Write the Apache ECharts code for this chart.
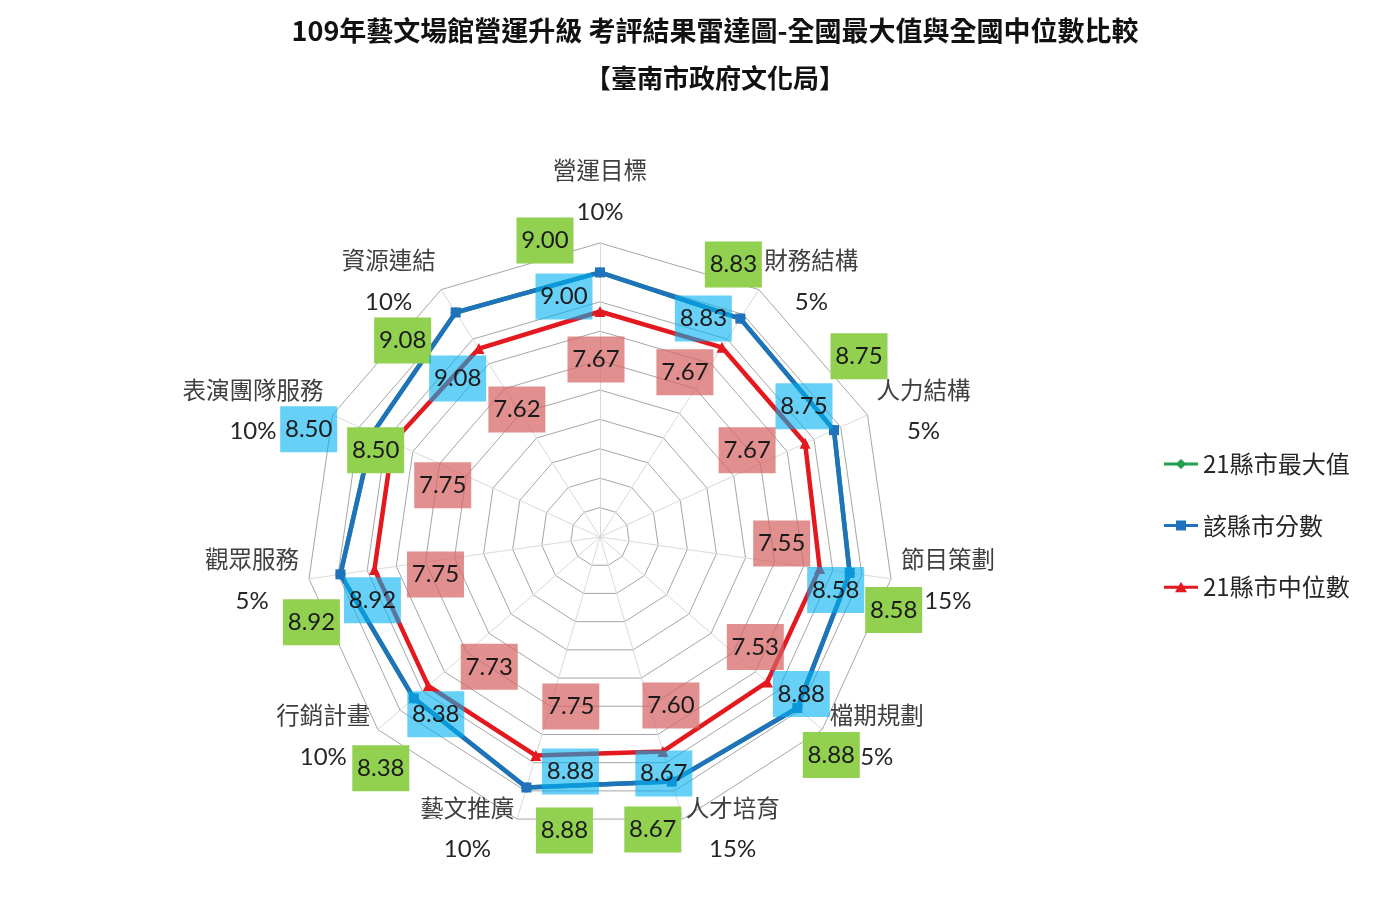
<!DOCTYPE html>
<html>
<head>
<meta charset="utf-8">
<script src="https://cdn.jsdelivr.net/npm/echarts@6/dist/echarts.min.js"></script>
<style>
html,body{margin:0;padding:0;background:#ffffff;}
#chart{width:1400px;height:903px;}
</style>
</head>
<body>
<div id="chart"></div>
<script>
// ---------- data ----------
const titleMain = '109年藝文場館營運升級 考評結果雷達圖-全國最大值與全國中位數比較';
const titleSub = '【臺南市政府文化局】';
const categories = ['營運目標', '財務結構', '人力結構', '節目策劃', '檔期規劃', '人才培育', '藝文推廣', '行銷計畫', '觀眾服務', '表演團隊服務', '資源連結'];
const weights = ['10%', '5%', '5%', '15%', '5%', '15%', '10%', '10%', '5%', '10%', '10%'];
const seriesNames = ['21縣市最大值', '該縣市分數', '21縣市中位數'];
const maxValues = [9.00, 8.83, 8.75, 8.58, 8.88, 8.67, 8.88, 8.38, 8.92, 8.50, 9.08];
const cityValues = [9.00, 8.83, 8.75, 8.58, 8.88, 8.67, 8.88, 8.38, 8.92, 8.50, 9.08];
const medianValues = [7.67, 7.67, 7.67, 7.55, 7.53, 7.60, 7.75, 7.73, 7.75, 7.75, 7.62];
const scaleMin = 0;
const scaleMax = 10;
const ringCount = 10;

// ---------- layout / style ----------
const CJK = '"Noto Sans CJK TC", "Noto Sans CJK SC", sans-serif';
const NUM = 'Lato, "Noto Sans", sans-serif';
const center = [600, 537];
const radius = 294;
const colors = { max: '#22A04B', city: '#1F72BC', median: '#E3191F' };
const labelBg = { max: '#92D050', city: 'rgba(0,176,240,0.6)', median: 'rgba(214,100,100,0.72)' };
// label offsets (px) from each vertex, clockwise from top
const maxLabelOffsets = [[-55, -32], [-7, -54], [25, -74], [44, 37], [34, 47], [-19, 48], [38, 43], [-33, 70], [-29, 48], [3, 17], [-53, 28]];
const cityLabelOffsets = [[-36, 24], [-37, 0], [-30, -24], [-14, 17], [4, -14], [-8, -8], [44, -16], [22, 16], [32, 26], [-64, -4], [2, 66]];
const medianLabelOffsets = [[-4, 48], [-37, 25], [-58, 7], [-38, -25], [-12, -35], [8, -46], [35, -49], [61, -19], [61, 5], [50, 43], [38, 61]];

// radar indicators run counter-clockwise; reorder so the picture reads clockwise
const order = [0].concat(categories.map((_, i) => i).slice(1).reverse());
const reorder = arr => order.map(i => arr[i]);

function radarSeries(name, values, color, symbol, size) {
  return {
    type: 'radar',
    name: name,
    symbol: symbol,
    symbolSize: size,
    lineStyle: { color: color, width: 4.5 },
    itemStyle: { color: color },
    areaStyle: null,
    emphasis: { disabled: true },
    data: [{ name: name, value: reorder(values) }]
  };
}

function labelSeries(values, offsets, bg) {
  return {
    type: 'scatter',
    coordinateSystem: 'polar',
    symbolSize: 0,
    silent: true,
    z: 10,
    itemStyle: { color: 'rgba(0,0,0,0)', opacity: 1 },
    label: {
      show: true,
      position: 'inside',
      formatter: p => p.value[0].toFixed(2),
      fontFamily: NUM,
      fontSize: 24,
      color: '#1a1a1a',
      opacity: 1,
      backgroundColor: bg,
      width: 57,
      height: 46,
      lineHeight: 46,
      align: 'center',
      verticalAlign: 'middle'
    },
    data: values.map((v, i) => ({ value: [v, i], label: { offset: offsets[i] } }))
  };
}

const legendIcons = [
  'path://M0,4L34,4L34,7L0,7Z M17,0.5L22.5,5.5L17,10.5L11.5,5.5Z',
  'path://M0,4L34,4L34,7L0,7Z M12,0.5L22,0.5L22,10.5L12,10.5Z',
  'path://M0,4L34,4L34,7L0,7Z M17,0L23,10.5L11,10.5Z'
];

const chart = echarts.init(document.getElementById('chart'));
chart.setOption({
  backgroundColor: '#ffffff',
  animation: false,
  title: [
    { text: titleMain, left: 710, top: 12, textAlign: 'center',
      textStyle: { fontFamily: CJK, fontSize: 27, fontWeight: 'bold', color: '#111111' } },
    { text: titleSub, left: 710, top: 60, textAlign: 'center',
      textStyle: { fontFamily: CJK, fontSize: 26, fontWeight: 'bold', color: '#111111' } }
  ],
  legend: {
    orient: 'vertical',
    left: 1159,
    top: 447,
    itemGap: 37.5,
    itemWidth: 34,
    itemHeight: 11,
    selectedMode: false,
    textStyle: { fontFamily: CJK, fontSize: 24, color: '#262626' },
    data: seriesNames.map((n, i) => ({ name: n, icon: legendIcons[i] }))
  },
  radar: {
    center: center,
    radius: radius,
    startAngle: 90,
    splitNumber: ringCount,
    shape: 'polygon',
    nameGap: 10,
    indicator: order.map(i => ({ name: categories[i], min: scaleMin, max: scaleMax })),
    axisName: {
      formatter: name => '{n|' + name + '}\n{p|' + weights[categories.indexOf(name)] + '}',
      rich: {
        n: { fontFamily: CJK, fontSize: 23.5, lineHeight: 42, align: 'center', color: '#404040' },
        p: { fontFamily: NUM, fontSize: 24, lineHeight: 42, align: 'center', color: '#262626' }
      }
    },
    axisLine: { lineStyle: { color: '#d9d9d9', width: 1 } },
    splitLine: { lineStyle: { color: '#a6a6a6', width: 1 } },
    splitArea: { show: false },
    axisTick: { show: false },
    axisLabel: { show: false }
  },
  polar: { center: center, radius: radius },
  angleAxis: { type: 'value', min: 0, max: categories.length, startAngle: 90, clockwise: true, show: false },
  radiusAxis: { type: 'value', min: scaleMin, max: scaleMax, show: false },
  series: [
    radarSeries(seriesNames[0], maxValues, colors.max, 'diamond', 11),
    radarSeries(seriesNames[1], cityValues, colors.city, 'rect', 10),
    radarSeries(seriesNames[2], medianValues, colors.median, 'triangle', 11),
    labelSeries(maxValues, maxLabelOffsets, labelBg.max),
    labelSeries(cityValues, cityLabelOffsets, labelBg.city),
    labelSeries(medianValues, medianLabelOffsets, labelBg.median)
  ]
});
</script>
</body>
</html>
